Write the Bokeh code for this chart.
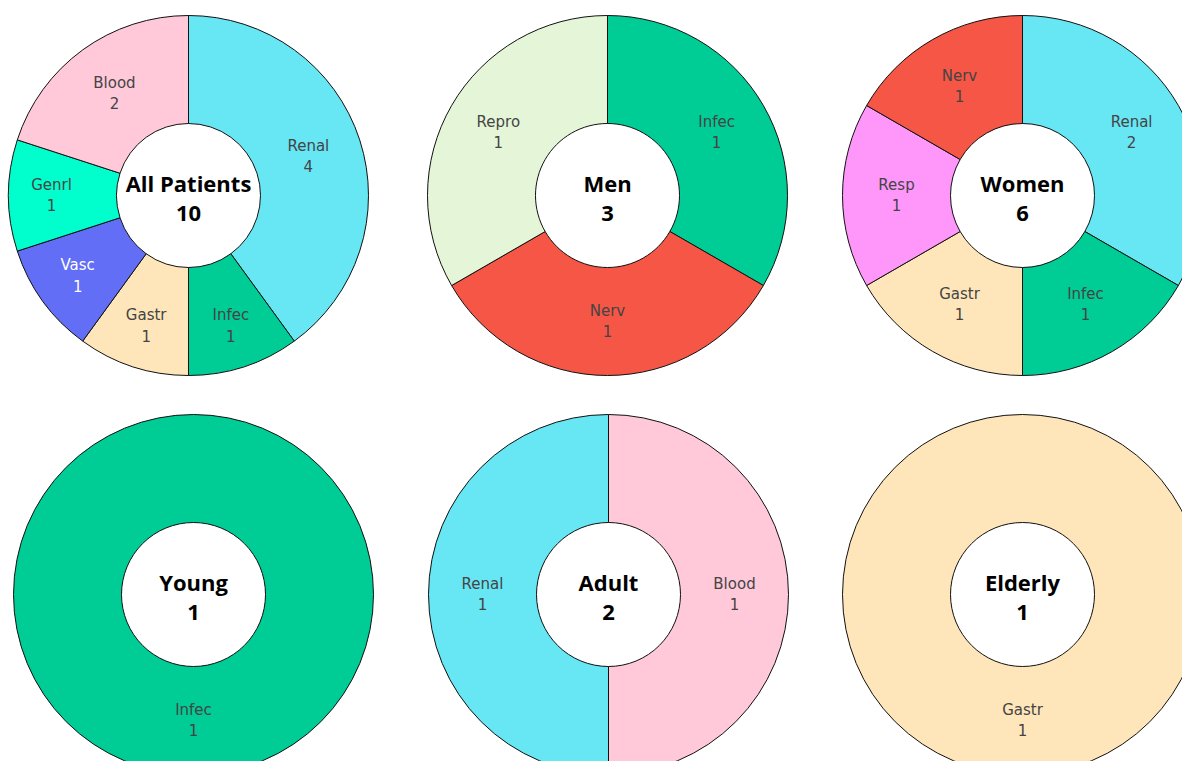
import numpy as np
from bokeh.plotting import figure
from bokeh.models import ColumnDataSource, Range1d
from bokeh.core.properties import value
from bokeh.embed import file_html
from bokeh.resources import INLINE

# ---------------- data ----------------
group_names = ["All Patients", "Men", "Women", "Young", "Adult", "Elderly"]

all_cats = ["Renal", "Infec", "Gastr", "Vasc", "Genrl", "Blood"]
all_vals = [4, 1, 1, 1, 1, 2]

men_cats = ["Infec", "Nerv", "Repro"]
men_vals = [1, 1, 1]

women_cats = ["Renal", "Infec", "Gastr", "Resp", "Nerv"]
women_vals = [2, 1, 1, 1, 1]

young_cats = ["Infec"]
young_vals = [1]

adult_cats = ["Blood", "Renal"]
adult_vals = [1, 1]

elderly_cats = ["Gastr"]
elderly_vals = [1]

category_colors = {
    "Renal": "#67E6F4",
    "Infec": "#00CC96",
    "Gastr": "#FFE6BA",
    "Vasc": "#616EF5",
    "Genrl": "#00FFCC",
    "Blood": "#FFC9DA",
    "Nerv": "#F65646",
    "Repro": "#E5F6D8",
    "Resp": "#FF97FA",
}
label_colors = {"Vasc": "#FFFFFF"}

groups_cats = [all_cats, men_cats, women_cats, young_cats, adult_cats, elderly_cats]
groups_vals = [all_vals, men_vals, women_vals, young_vals, adult_vals, elderly_vals]

# ---------------- layout (picture pixels) ----------------
PW, PH = 1182, 761
centers_px = [(188, 195), (607, 195), (1022, 195), (193, 594), (608, 594), (1022, 594)]
R_OUT, R_IN = 180, 72
R_LAB = (R_OUT + R_IN) / 2
R_LAB_NARROW = R_LAB + 11   # labels of narrow slices sit further out

p = figure(width=PW, height=PH, output_backend="svg", toolbar_location=None,
           x_range=Range1d(0, PW), y_range=Range1d(0, PH), min_border=0)
p.axis.visible = False
p.grid.visible = False
p.outline_line_color = None
p.background_fill_color = "white"
p.border_fill_color = "white"

wedge = dict(x=[], y=[], start=[], end=[], color=[])
ring = dict(x=[], y=[], color=[])
labels = dict(x=[], y=[], text=[], color=[])
centers = dict(x=[], y=[], text=[])

for name, cats, vals, (sx, sy) in zip(group_names, groups_cats, groups_vals, centers_px):
    cx, cy = sx, PH - sy
    vals = np.array(vals, dtype=float)
    total = vals.sum()
    before = np.concatenate([[0], np.cumsum(vals)[:-1]])
    after = np.cumsum(vals)
    for c, v, b, a in zip(cats, vals, before, after):
        if len(cats) == 1:
            ring["x"].append(cx); ring["y"].append(cy); ring["color"].append(category_colors[c])
        else:
            wedge["x"].append(cx); wedge["y"].append(cy)
            wedge["start"].append(np.pi / 2 - 2 * np.pi * b / total)
            wedge["end"].append(np.pi / 2 - 2 * np.pi * a / total)
            wedge["color"].append(category_colors[c])
        mid = np.pi / 2 - 2 * np.pi * (b + v / 2) / total
        r_lab = R_LAB_NARROW if v / total < 0.15 else R_LAB
        labels["x"].append(cx + r_lab * np.cos(mid))
        labels["y"].append(cy + r_lab * np.sin(mid))
        labels["text"].append(f"{c}\n{int(v)}")
        labels["color"].append(label_colors.get(c, "#444444"))
    centers["x"].append(cx); centers["y"].append(cy - 2)
    centers["text"].append(f"{name}\n{int(total)}")

p.annular_wedge(x="x", y="y", inner_radius=R_IN, outer_radius=R_OUT,
                start_angle="start", end_angle="end", direction="clock",
                fill_color="color", line_color="#111111", line_width=1,
                source=ColumnDataSource(wedge))
p.annulus(x="x", y="y", inner_radius=R_IN, outer_radius=R_OUT,
          fill_color="color", line_color="#111111", line_width=1,
          source=ColumnDataSource(ring))

p.text(x="x", y="y", text="text", text_color="color", source=ColumnDataSource(labels),
       text_align="center", text_baseline="middle", text_font=value("DejaVu Sans"),
       text_font_size="15px", text_line_height=1.2)

p.text(x="x", y="y", text="text", text_color="black", source=ColumnDataSource(centers),
       text_align="center", text_baseline="middle", text_font=value("Open Sans"),
       text_font_style="bold", text_font_size="22px", text_line_height=0.97)

open("out.html", "w").write(file_html(p, INLINE))
